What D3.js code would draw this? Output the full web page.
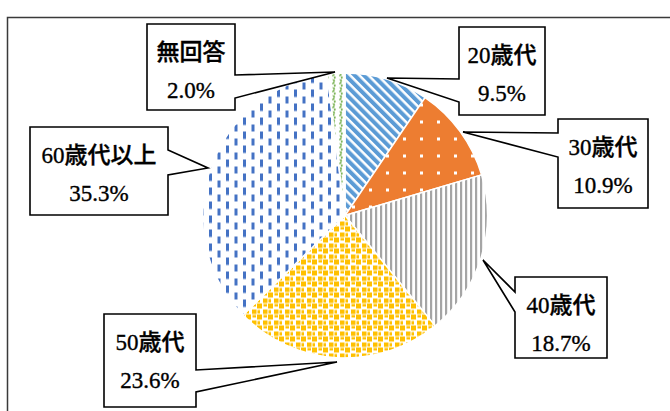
<!DOCTYPE html>
<html><head><meta charset="utf-8">
<script src="https://cdn.jsdelivr.net/npm/d3@7"></script>
<style>html,body{margin:0;padding:0;background:#fff;}svg{display:block;}</style>
</head><body>
<svg id="chart" width="670" height="411"></svg>
<script>
const categories = ["20歳代", "30歳代", "40歳代", "50歳代", "60歳代以上", "無回答"];
const values = [9.5, 10.9, 18.7, 23.6, 35.3, 2.0];
const valueLabels = ["9.5%", "10.9%", "18.7%", "23.6%", "35.3%", "2.0%"];

const svg = d3.select("#chart");
const defs = svg.append("defs");
const FONT = "'Liberation Serif', 'Noto Sans CJK JP', serif";

function pat(id, w, h, transform) {
  const p = defs.append("pattern").attr("id", id).attr("patternUnits", "userSpaceOnUse")
    .attr("width", w).attr("height", h);
  if (transform) p.attr("patternTransform", transform);
  return p;
}
// 20: diagonal stripes
let p = pat("p0", 6.5, 6.5, "rotate(-45)");
p.append("rect").attr("width", 6.5).attr("height", 6.5).attr("fill", "#fff");
p.append("rect").attr("width", 4).attr("height", 6.5).attr("fill", "#5B9BD5");
// 30: orange with white dots
p = pat("p1", 17, 17);
p.append("rect").attr("width", 17).attr("height", 17).attr("fill", "#ED7D31");
p.append("rect").attr("x", 7).attr("y", 7).attr("width", 3).attr("height", 3).attr("fill", "#fff");
// 40: vertical gray lines
p = pat("p2", 5, 5);
p.append("rect").attr("width", 5).attr("height", 5).attr("fill", "#fff");
p.append("rect").attr("width", 2.2).attr("height", 5).attr("fill", "#A5A5A5");
// 50: gold confetti
p = pat("p3", 11, 11);
p.append("rect").attr("width", 11).attr("height", 11).attr("fill", "#fff");
[[0,0,5,5],[6,6,4.5,4.5],[6.5,0.5,3.5,2.5],[0.5,6.5,2.5,3.5]].forEach(r =>
  p.append("rect").attr("x", r[0]).attr("y", r[1]).attr("width", r[2]).attr("height", r[3]).attr("fill", "#FFC000"));
// 60: dashed vertical
p = pat("p4", 17, 14);
p.append("rect").attr("width", 17).attr("height", 14).attr("fill", "#fff");
p.append("rect").attr("x", 0).attr("y", 0).attr("width", 3).attr("height", 7.5).attr("fill", "#4472C4");
p.append("rect").attr("x", 8.5).attr("y", 7).attr("width", 3).attr("height", 7.5).attr("fill", "#4472C4");
// none: green wavy
p = pat("p5", 7, 8);
p.append("rect").attr("width", 7).attr("height", 8).attr("fill", "#fff");
p.append("path").attr("d", "M2,0 L4,2 L2,4 L4,6 L2,8").attr("fill", "none")
  .attr("stroke", "#70AD47").attr("stroke-width", 1.6).attr("stroke-dasharray", "2.5,1.2");

// frame
svg.append("path").attr("d", "M7.5,420 L7.5,17.5 L680,17.5").attr("fill", "none")
  .attr("stroke", "#3a3a3a").attr("stroke-width", 1.5);

const cx = 345, cy = 215.5, r = 142.5;
const pie = d3.pie().sort(null).value(d => d)(values);
const arc = d3.arc().innerRadius(0).outerRadius(r);
const g = svg.append("g").attr("transform", `translate(${cx},${cy})`);
g.selectAll("path.slice").data(pie).join("path").attr("class", "slice")
  .attr("d", arc).attr("fill", (d, i) => `url(#p${i})`)
  .attr("stroke", "#fff").attr("stroke-width", 1.5);

const callouts = [
  {box:[459,27,545,115], side:"left",  n:[79,102],  tip:[387,78]},
  {box:[558,119,648,208], side:"left", n:[133,157], tip:[463,132]},
  {box:[515,277,607,358], side:"left", n:[292,312], tip:[483,260]},
  {box:[104,314,196,407], side:"right", n:[370,392], tip:[337,362]},
  {box:[30,127,168,215], side:"right", n:[150,175], tip:[208,168]},
  {box:[147,24,235,110], side:"right", n:[75,98],   tip:[335,72]}
];
function calloutPath(c) {
  const [x0,y0,x1,y1] = c.box, [a,b] = c.n, [tx,ty] = c.tip;
  if (c.side === "left")
    return `M${x0},${y0}L${x1},${y0}L${x1},${y1}L${x0},${y1}L${x0},${b}L${tx},${ty}L${x0},${a}Z`;
  return `M${x0},${y0}L${x1},${y0}L${x1},${a}L${tx},${ty}L${x1},${b}L${x1},${y1}L${x0},${y1}Z`;
}
const lg = svg.append("g");
callouts.forEach((c, i) => {
  lg.append("path").attr("d", calloutPath(c)).attr("fill", "#fff")
    .attr("stroke", "#000").attr("stroke-width", 1.6).attr("stroke-linejoin", "miter");
  const mx = (c.box[0] + c.box[2]) / 2;
  const t = lg.append("text").attr("font-family", FONT).attr("font-size", 23)
    .attr("text-anchor", "middle").attr("fill", "#000").attr("font-weight", 500)
    .attr("stroke", "#000").attr("stroke-width", 0.35);
  t.append("tspan").attr("x", mx).attr("y", c.box[1] + 36).text(categories[i]);
  t.append("tspan").attr("x", mx).attr("y", c.box[1] + 74).text(valueLabels[i]);
});
</script>
</body></html>
